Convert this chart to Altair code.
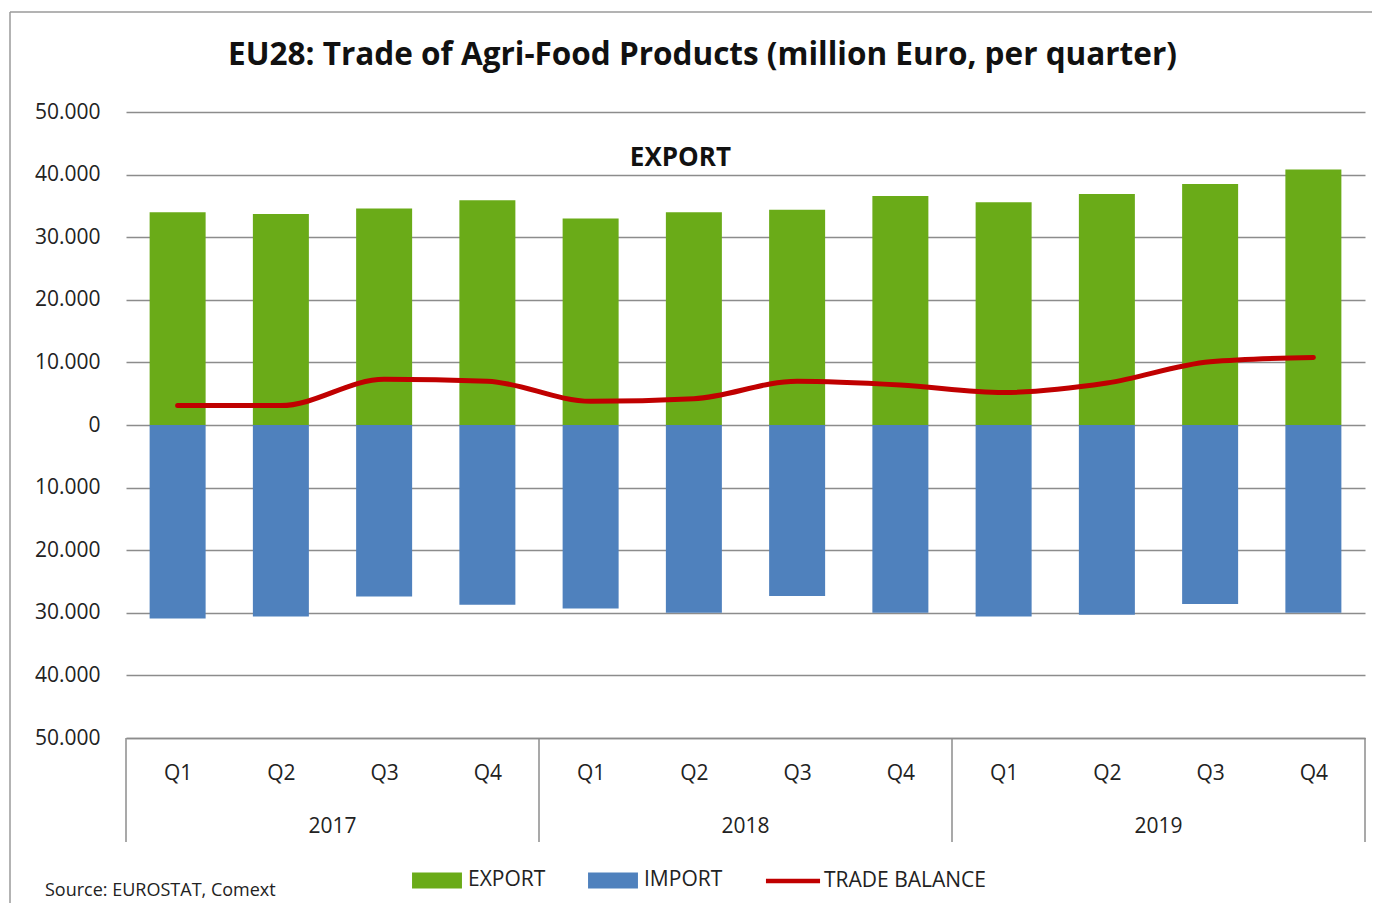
import altair as alt
import pandas as pd

# ---- data ----
years = ["2017", "2017", "2017", "2017", "2018", "2018", "2018", "2018", "2019", "2019", "2019", "2019"]
quarters = ["Q1", "Q2", "Q3", "Q4", "Q1", "Q2", "Q3", "Q4", "Q1", "Q2", "Q3", "Q4"]
export_vals = [34000, 33700, 34600, 35900, 33000, 34000, 34400, 36600, 35600, 36900, 38500, 40800]
import_vals = [30900, 30600, 27400, 28700, 29300, 30000, 27300, 30000, 30600, 30300, 28600, 30000]
balance_vals = [3100, 3100, 7300, 7000, 3800, 4200, 7000, 6400, 5200, 6700, 10100, 10800]

series_names = ["EXPORT", "IMPORT", "TRADE BALANCE"]
series_colors = ["#6AAB18", "#4F81BD", "#C00000"]
title_text = "EU28: Trade of Agri-Food Products (million Euro, per quarter)"
source_text = "Source: EUROSTAT, Comext"
annot_text = ["EXPORT"]
annot_x = [4.87]
annot_y = [42700]

W, H = 1239, 626
FONT = "Open Sans"
FS = 21

idx = list(range(len(quarters)))
export_df = pd.DataFrame({"idx": idx, "value": export_vals})
import_df = pd.DataFrame({"idx": idx, "value": [-v for v in import_vals]})
line_df = pd.DataFrame({"idx": idx, "value": balance_vals})
legend_df = pd.DataFrame({"series": series_names})

yr = pd.DataFrame({"year": years, "idx": idx})
year_df = yr.groupby("year", as_index=False)["idx"].mean()
bounds = sorted(set(yr.groupby("year")["idx"].min().tolist()))
sep_df = pd.DataFrame({"pos": [b - 0.5 for b in bounds] + [max(idx) + 0.5]})
annot_df = pd.DataFrame({"t": annot_text, "x": annot_x, "y": annot_y})

# quarter label expression built from the quarters list (nested conditionals)
q_expr = "''"
for i in reversed(idx):
    q_expr = "datum.value == %d ? '%s' : (%s)" % (i, quarters[i], q_expr)

xscale = alt.Scale(domain=[-0.5, len(idx) - 0.5], nice=False, zero=False, padding=0)
yscale = alt.Scale(domain=[-50000, 50000], nice=False)
cscale = alt.Scale(domain=series_names, range=series_colors)
RECT = "M-0.96,-0.31H0.96V0.31H-0.96Z"
LINE = "M-1.04,-0.085H1.04V0.085H-1.04Z"
sscale = alt.Scale(domain=series_names, range=[RECT, RECT, LINE])

leg = alt.Legend(orient="none", legendX=284, legendY=741, direction="horizontal", title=None,
                 symbolSize=2704, symbolOpacity=1, labelFontSize=FS, labelFont=FONT,
                 labelColor="#222222", labelOffset=4, columnPadding=39, labelLimit=400)

X_main = alt.X("idx:Q", scale=xscale,
               axis=alt.Axis(values=idx, labelExpr=q_expr, grid=False,
                             ticks=False, domain=True, domainColor="#8c8c8c", domainWidth=1.5,
                             labelPadding=24, title=None, labelFontSize=FS, labelFont=FONT,
                             labelColor="#222222"))
Y_main = alt.Y("value:Q", scale=yscale, stack=None,
               axis=alt.Axis(values=list(range(-50000, 50001, 10000)),
                             labelExpr="replace(format(abs(datum.value), ','), ',', '.')",
                             grid=True, gridColor="#8c8c8c", gridWidth=1.5, ticks=False,
                             domain=False, labelPadding=26, title=None, labelFontSize=FS,
                             labelFont=FONT, labelColor="#222222"))

export_layer = alt.Chart(export_df).mark_bar(size=56, color=series_colors[0]).encode(
    x=X_main, y=Y_main)
import_layer = alt.Chart(import_df).mark_bar(size=56, color=series_colors[1]).encode(
    x=alt.X("idx:Q", scale=xscale), y=alt.Y("value:Q", scale=yscale, stack=None))

legend_layer = alt.Chart(legend_df).mark_point(filled=True, opacity=0).encode(
    x=alt.value(0), y=alt.value(0),
    color=alt.Color("series:N", scale=cscale, legend=leg),
    shape=alt.Shape("series:N", scale=sscale, legend=leg),
)

line_layer = alt.Chart(line_df).mark_line(color=series_colors[2], strokeWidth=5,
                                           interpolate="monotone", strokeCap="round").encode(
    x=alt.X("idx:Q", scale=xscale),
    y=alt.Y("value:Q", scale=yscale),
)

sep_layer = alt.Chart(sep_df).mark_rule(color="#8c8c8c", strokeWidth=1.5).encode(
    x=alt.X("pos:Q", scale=xscale),
    y=alt.value(H), y2=alt.value(H + 104),
)

year_layer = alt.Chart(year_df).mark_text(fontSize=FS, font=FONT, color="#222222",
                                           baseline="middle").encode(
    x=alt.X("idx:Q", scale=xscale),
    y=alt.value(H + 89),
    text="year:N",
)

annot_layer = alt.Chart(annot_df).mark_text(fontSize=26, font=FONT, fontWeight="bold",
                                             color="#111111", baseline="middle").encode(
    x=alt.X("x:Q", scale=xscale),
    y=alt.Y("y:Q", scale=yscale),
    text="t:N",
)

src_layer = alt.Chart(pd.DataFrame({"t": [source_text]})).mark_text(
    fontSize=18, font=FONT, color="#222222", align="left", baseline="middle").encode(
    x=alt.value(-81), y=alt.value(H + 153), text="t:N")

frame_top = alt.Chart(pd.DataFrame({"a": [0]})).mark_rule(color="#9a9a9a", strokeWidth=1.5).encode(
    x=alt.value(-116), x2=alt.value(W + 10), y=alt.value(-100))
frame_left = alt.Chart(pd.DataFrame({"a": [0]})).mark_rule(color="#9a9a9a", strokeWidth=1.5).encode(
    x=alt.value(-116), y=alt.value(-100), y2=alt.value(H + 170))

chart = alt.layer(
    export_layer, import_layer, line_layer, sep_layer, year_layer, annot_layer,
    src_layer, frame_top, frame_left, legend_layer
).properties(
    width=W, height=H,
    autosize=alt.AutoSizeParams(type="none"),
    padding={"left": 118, "top": 104, "right": 7, "bottom": 165},
    background="white",
    title=alt.TitleParams(title_text, fontSize=31.5, font=FONT, fontWeight="bold",
                          color="#111111", anchor="middle", frame="group",
                          baseline="alphabetic", dx=-43, dy=85, offset=0),
).configure_view(stroke=None)

chart.save("out.html", embed_options={"renderer": "svg", "actions": False})
